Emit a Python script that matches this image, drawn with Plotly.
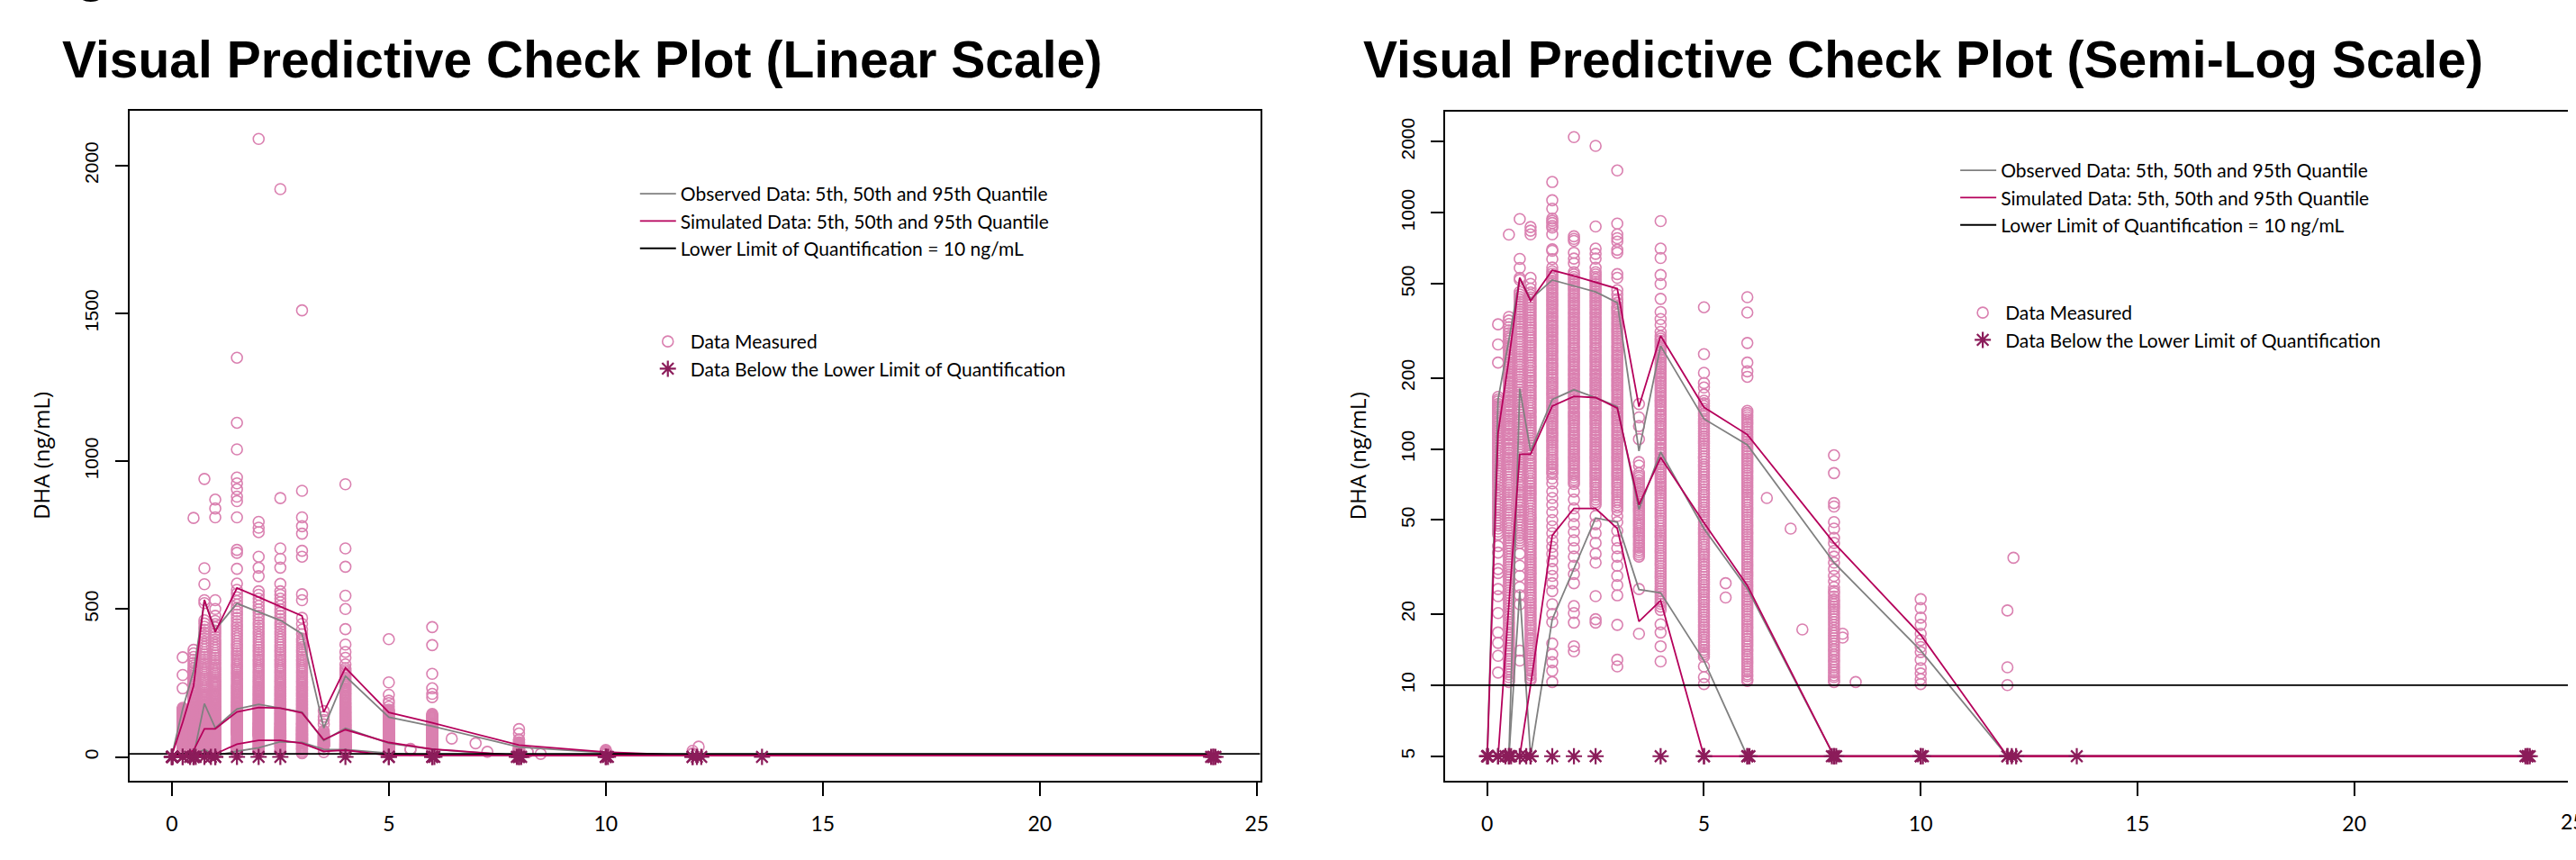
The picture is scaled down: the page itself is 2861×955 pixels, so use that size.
import plotly.graph_objects as go

W, H = 2861, 955

# ---------------- data ----------------
TIME_POINTS = [0, 0.25, 0.5, 0.75, 1, 1.5, 2, 2.5, 3, 3.5, 4, 5, 6, 8, 10, 12, 24]

OBS_P95 = [5, 162, 290, 528, 430, 519, 490, 462, 416, 98, 273, 134, 104, 33, 14, 5, 5]
OBS_P50 = [5, 5, 5, 180, 98, 162, 178, 165, 151, 55.5, 97, 46, 25.6, 5, 5, 5, 5]
OBS_P05 = [5, 5, 5, 25, 5, 19, 31, 51, 49, 25.4, 24.6, 12.7, 5, 5, 5, 5, 5]

SIM_P95 = [5, 117, 240, 531, 423, 571, 540, 509, 477, 151, 301, 150, 115, 40, 16.3, 5, 5]
SIM_P50 = [5, 5, 22, 95, 95, 152, 167, 165, 149, 58, 92, 48.7, 26.4, 5, 5, 5, 5]
SIM_P05 = [5, 5, 5, 5, 10, 43, 56, 56, 46, 18.6, 22.8, 5, 5, 5, 5, 5, 5]

LLOQ = 10
BLQ_Y_LINEAR = 0
BLQ_Y_LOG = 5
BLQ_TIMES = [0, 0, 0, 0.02, 0.25, 0.25, 0.42, 0.5, 0.5, 0.55, 0.75, 0.9, 1.0, 1.0,
             1.5, 2.0, 2.5, 4.0, 5.0, 5.0, 6.0, 6.0, 6.05, 7.95, 8.0, 8.0, 8.05,
             10.0, 10.0, 10.05, 12.0, 12.0, 12.1, 12.2, 13.6, 23.95, 24.0, 24.0, 24.05]

conc_t0_25 = [337, 277, 232, 166, 159, 152, 146, 140, 134, 128, 122, 117, 111, 106, 101, 96,
              91, 87, 83, 79, 75, 71, 67, 63.5, 60, 57, 54, 51, 48.5, 46, 43.5, 38.8, 36.4,
              31, 29.8, 25.5, 23.8, 20.2, 16.7, 15.1, 13.3, 11.3]
conc_t0_25_b = [162, 155, 149, 143, 137, 131, 125, 119.5, 114, 108.5, 103.5, 98.5, 93.5, 89, 85,
                81, 77, 73, 69, 65, 61.7, 58.5, 55.5, 52.5, 49.7, 47.2, 44.7]
conc_t0_5 = [808, 362, 338, 318, 300, 287, 274, 262, 250, 239, 228, 218, 208, 199, 190, 181,
             173, 165, 158, 151, 144, 137, 131, 125, 119, 114, 109, 104, 99, 94, 90, 86, 82,
             78, 74, 70.5, 67, 64, 61, 58, 55, 52.5, 50, 47.5, 45, 43, 41, 39, 37, 35, 33.3,
             31.7, 30.1, 28.6, 27.2, 25.9, 24.6, 23.4, 22.2, 21.1, 20, 19, 18.1, 17.2, 16.3,
             15.5, 14.7, 14, 13.3, 12.6, 12, 11.4, 10.8, 10.3]
conc_t0_5_b = [350, 328, 309, 293, 280, 268, 256, 244, 233, 223, 213, 203, 194, 185, 177, 169,
               161, 154, 147, 140, 134, 128, 122, 116, 111, 106, 101, 96.5, 92, 88, 84, 80, 76,
               72, 68.7, 65.5, 62.5, 59.5, 56.5, 53.7, 51.2, 48.7, 46.2, 44, 42, 40, 38, 36,
               34.1, 32.5, 30.9, 29.3, 27.9, 26.5, 25.2, 24, 22.8, 21.6, 20.5, 19.5, 18.5, 17.6,
               16.7, 15.9, 15.1, 14.3, 13.6, 12.9, 12.3, 11.7, 11.1, 10.5]
conc_t0_75 = [940, 638, 584, 530, 520, 462, 440, 420, 400, 381, 363, 346, 330, 314, 299, 285,
              271, 258, 246, 234, 223, 212, 202, 192, 183, 174, 166, 158, 150, 143, 136, 130,
              124, 118, 112, 107, 102, 97, 92, 88, 84, 80, 76, 72, 69, 65.5, 62.5, 59.5, 56.5,
              54, 51.5, 49, 46.5, 44, 42, 40, 36, 32, 29, 26, 24, 22, 14, 12.7]
conc_t0_75_b = [451, 430, 410, 390, 372, 354, 338, 322, 307, 292, 278, 264, 252, 240, 228, 217,
                207, 197, 187, 178, 170, 162, 154, 146, 140, 133, 127, 121, 115, 110, 104.5,
                99.5, 94.5, 90, 86, 82, 78, 74, 70.5, 67, 64, 61, 58, 55, 52.7, 50.2, 47.7,
                45.2, 43, 41]
conc_t1 = [870, 840, 810, 530, 500, 477, 460, 438, 417, 397, 378, 360, 343, 327, 311, 296, 282,
           269, 256, 244, 232, 221, 210, 200, 191, 182, 173, 165, 157, 149, 142, 135, 129, 123,
           117, 111, 106, 101, 96, 91.5, 87, 83, 79, 75, 71.5, 68, 65, 62, 59, 56, 53, 50.5, 48,
           45.7, 43.5, 41.5, 39.5, 37.5, 35.7, 34, 32.4, 30.8, 29.3, 27.9, 26.6, 25.3, 24.1,
           22.9, 21.8, 20.8, 19.8, 18.8, 17.9, 17.1, 16.2, 15.5, 14.7, 14, 13.3, 12.7, 12.1,
           11.5, 11, 10.5]
conc_t1_b = [449, 427, 407, 387, 369, 351, 335, 319, 303, 289, 275, 262, 250, 238, 226, 215, 205,
             195, 186, 177, 169, 161, 153, 145, 138, 132, 126, 120, 114, 108.5, 103.5, 98.5, 94,
             89, 85, 81, 77, 73, 69.7, 66.5, 63.5, 60.5, 57.5, 54.5, 51.7, 49.2, 46.8, 44.6,
             42.5, 40.5, 38.5, 36.6, 34.8, 33.2, 31.6, 30, 28.6, 27.2, 25.9, 24.7, 23.5, 22.3,
             21.3, 20.3, 19.3, 18.3, 17.5, 16.6, 15.8, 15.1, 14.3, 13.6, 13, 12.4, 11.8, 11.2,
             10.7]
conc_t1_5 = [1350, 1130, 1040, 945, 925, 905, 880, 865, 810, 700, 690, 636, 586, 565, 540, 515,
             492, 470, 449, 429, 410, 392, 375, 358, 342, 327, 312, 298, 285, 272, 260, 248, 237,
             226, 216, 206, 197, 188, 180, 172, 164, 157, 150, 143, 137, 131, 125, 119, 114, 109,
             104, 99, 94.5, 90, 86, 82, 78.5, 75, 71.5, 66, 62, 58, 54, 50, 47, 44, 41, 38.5, 36,
             33.5, 31, 29, 27, 25, 22, 20, 18.5, 15, 13.5, 12.5, 11.5, 10.3]
conc_t1_5_b = [552, 527, 503, 481, 459, 439, 419, 401, 383, 366, 350, 334, 319, 305, 291, 278,
               266, 254, 242, 231, 221, 211, 201, 192, 184, 176, 168, 160, 153, 146, 140, 134,
               128, 122, 116.5, 111.5, 106.5, 101.5, 97, 92, 88, 84, 80]
conc_t2 = [2090, 795, 775, 760, 677, 640, 611, 560, 535, 511, 488, 466, 445, 425, 406, 388, 371,
           354, 338, 323, 308, 294, 281, 268, 256, 245, 234, 223, 213, 204, 195, 186, 178, 170,
           162, 155, 148, 141, 135, 129, 123, 117, 112, 107, 102, 97.5, 93, 89, 85, 81, 77.5, 74,
           71, 66, 61, 56, 52, 48, 44.5, 41, 38, 35, 32, 29.5, 27, 21.6, 20.2, 18.4, 14.6, 13.9]
conc_t2_b = [548, 523, 499, 477, 455, 435, 415, 397, 379, 362, 346, 330, 316, 301, 288, 274, 262,
             250, 239, 228, 218, 208, 199, 190, 182, 174, 166, 158, 151, 144, 138, 132, 126, 120,
             114.5, 109.5, 104.5, 99.7, 95, 91, 87, 83, 79, 75.7, 72.5]
conc_t2_5 = [1920, 875, 705, 670, 640, 585, 560, 535, 511, 488, 466, 445, 425, 406, 388, 371,
             354, 338, 323, 308, 294, 281, 268, 256, 245, 234, 223, 213, 204, 195, 186, 178, 170,
             162, 155, 148, 141, 135, 129, 123, 117, 112, 107, 102, 97.5, 93, 89, 85, 81, 77.5,
             74, 70.5, 67, 64, 61, 58, 52, 48, 44, 40, 36, 33, 23.8, 19, 18.4]
conc_t2_5_b = [548, 523, 499, 477, 455, 435, 415, 397, 379, 362, 346, 330, 316, 301, 288, 274,
               262, 250, 239, 228, 218, 208, 199, 190, 182, 174, 166, 158, 151, 144, 138, 132,
               126, 120, 114.5, 109.5, 104.5, 99.7, 95, 91, 87, 83, 79, 75.7, 72.2, 68.7, 65.5,
               62.5, 59.5]
conc_t3 = [1510, 900, 810, 780, 755, 697, 677, 550, 530, 470, 450, 430, 415, 400, 388, 371, 354,
           338, 323, 308, 294, 281, 268, 256, 245, 234, 223, 213, 204, 195, 186, 178, 170, 162,
           155, 148, 141, 135, 129, 123, 117, 112, 107, 102, 97.5, 93, 89, 85, 81, 77.5, 74,
           70.5, 67, 64, 61, 58, 55, 52, 49, 45, 41, 38, 35, 32, 29, 26.5, 24, 18, 12.8, 12]
conc_t3_b = [394, 380, 362, 346, 330, 316, 301, 288, 274, 262, 250, 239, 228, 218, 208, 199, 190,
             182, 174, 166, 158, 151, 144, 138, 132, 126, 120, 114.5, 109.5, 104.5, 99.7, 95, 91,
             87, 83, 79, 75.7, 72.2, 68.7, 65.5, 62.5, 59.5, 56.5]
conc_t3_5 = [155, 136, 125, 110, 88, 85, 79, 75.5, 72, 69, 66, 63, 60, 57.5, 55, 52.5, 50, 48,
             46, 44, 42, 40, 38.2, 36.5, 35, 25.5, 16.5]
conc_t3_5_b = [77, 73.7, 70.5, 67.5, 64.5, 61.5, 58.7, 56.2, 53.7, 51.2, 49, 47, 45, 43, 41,
               39.1, 37.3, 35.7]
conc_t4 = [922, 705, 643, 545, 500, 432, 380, 355, 335, 313, 300, 287, 274, 262, 250, 239, 228,
           218, 208, 199, 190, 181, 173, 165, 158, 151, 144, 137, 131, 125, 119, 114, 109, 104,
           99, 94.5, 90, 86, 82, 78, 74.5, 71, 68, 65, 62, 59, 56, 53.5, 51, 48.5, 46, 44, 42,
           40, 38, 36.2, 34.5, 32.8, 31.2, 29.7, 28.3, 26.9, 25.6, 24.4, 23.2, 22.1, 20.8, 18.1,
           16.7, 14.6, 12.6]
conc_t4_b = [293, 280, 268, 256, 244, 233, 223, 213, 203, 194, 185, 177, 169, 161, 154, 147, 140,
             134, 128, 122, 116, 111, 106, 101, 96.5, 92, 88, 84, 80, 76, 72.7, 69.5, 66.5, 63.5,
             60.5, 57.5, 54.7, 52.2, 49.7, 47.2, 45, 43, 41, 39, 37.1, 35.3, 33.6, 32, 30.4, 29,
             27.6, 26.2, 25, 23.8, 22.6, 21.5]
conc_t5 = [398, 252, 210, 190, 182, 170, 160, 152, 145, 138, 131, 125, 119, 113, 108, 103, 98,
           93, 88.5, 84, 80, 76, 72.5, 69, 65.5, 62.5, 59.5, 56.5, 54, 51.5, 49, 46.5, 44.5,
           42.5, 40.5, 38.5, 36.5, 35, 33.3, 31.7, 30.2, 28.7, 27.3, 26, 24.8, 23.6, 22.5, 21.4,
           20.4, 19.4, 18.5, 17.6, 16.8, 16, 15.2, 14.5, 13.8, 13.2, 12, 10.8, 10.1]
conc_t5_b = [156, 148, 141, 134, 128, 122, 116, 110.5, 105.5, 100.5, 95.5, 91, 86, 82, 78, 74,
             70.7, 67.2, 64, 61, 58, 55.2, 52.7, 50.2, 47.7, 45.5, 43.5, 41.5, 39.5, 37.5, 35.7,
             34.1, 32.5, 30.9, 29.4, 28, 26.6, 25.4, 24.2, 23, 21.9, 20.9, 19.9, 18.9, 18, 17.2,
             16.4, 15.6, 14.8, 14.1, 13.5]
conc_t5_5 = [27, 23.5]
conc_t6 = [439, 378, 281, 232, 213, 202, 145, 139, 133, 127, 121, 115, 110, 105, 100, 95.5, 91,
           87, 83, 79, 75.5, 72, 68.5, 65.5, 62.5, 59.5, 56.5, 54, 51.5, 49, 46.7, 44.5, 42.5,
           40.5, 38.5, 36.7, 35, 33.3, 31.7, 30.2, 28.8, 27.4, 26.1, 24.9, 23.7, 22.6, 21.5,
           20.5, 19.5, 18.6, 17.7, 16.9, 16.1, 15.3, 14.6, 13.9, 13.2, 12.6, 12, 11.4, 10.9, 10.4]
conc_t6_b = [142, 136, 130, 124, 118, 112.5, 107.5, 102.5, 97.7, 93.2, 89, 85, 81, 77.2, 73.7,
             70.2, 67, 64, 61, 58, 55.2, 52.7, 50.2, 47.8, 45.6, 43.5, 41.5, 39.5, 37.6, 35.8,
             34.1, 32.5, 31, 29.5, 28.1, 26.7, 25.5, 24.3, 23.1, 22, 21, 20, 19, 18.1, 17.3, 16.5,
             15.7, 14.9, 14.2, 13.5, 12.9, 12.3, 11.7, 11.1, 10.6]
conc_t6_45 = [62]
conc_t7 = [46]
conc_t7_27 = [17.2]
conc_t8 = [94, 79, 59, 57, 49, 46, 42, 40, 37, 35, 33, 31, 29, 27.5, 26, 24.5, 23, 22, 21, 20,
           19, 18, 17, 16.2, 15.4, 14.6, 13.9, 13.2, 12.5, 11.9, 11.3, 10.8, 10.3]
conc_t8_b = [25, 23.7, 22.5, 21.5, 20.5, 19.5, 18.5, 17.5, 16.6, 15.8, 15, 14.2, 13.5, 12.8,
             12.2, 11.6, 11, 10.5]
conc_t8_2 = [16.5, 15.9]
conc_t8_5 = [10.3]
conc_t10 = [23.1, 21.2, 19.3, 18.0, 16.5, 15.5, 14.5, 13.8, 12.8, 11.8, 11.2, 10.6, 10.1]
conc_t12 = [20.7, 11.9, 10.0]
conc_t12_14 = [34.6]

MEASURED = [
    (0.25, conc_t0_25), (0.25, conc_t0_25_b), (0.5, conc_t0_5), (0.5, conc_t0_5_b),
    (0.75, conc_t0_75), (0.75, conc_t0_75_b), (1.0, conc_t1), (1.0, conc_t1_b),
    (1.5, conc_t1_5), (1.5, conc_t1_5_b), (2.0, conc_t2), (2.0, conc_t2_b),
    (2.5, conc_t2_5), (2.5, conc_t2_5_b), (3.0, conc_t3), (3.0, conc_t3_b),
    (3.5, conc_t3_5), (3.5, conc_t3_5_b), (4.0, conc_t4), (4.0, conc_t4_b),
    (5.0, conc_t5), (5.0, conc_t5_b), (5.5, conc_t5_5),
    (6.0, conc_t6), (6.0, conc_t6_b), (6.45, conc_t6_45), (7.0, conc_t7), (7.27, conc_t7_27),
    (8.0, conc_t8), (8.0, conc_t8_b), (8.2, conc_t8_2), (8.5, conc_t8_5), (10.0, conc_t10),
    (12.0, conc_t12), (12.14, conc_t12_14),
]

X_TICKS = [0, 5, 10, 15, 20, 25]
Y_TICKS_LIN = [0, 500, 1000, 1500, 2000]
Y_TICKS_LOG = [5, 10, 20, 50, 100, 200, 500, 1000, 2000]

TITLE_LIN = "Visual Predictive Check Plot (Linear Scale)"
TITLE_LOG = "Visual Predictive Check Plot (Semi-Log Scale)"
Y_LABEL = "DHA (ng/mL)"
LEG_OBS = "Observed Data: 5th, 50th and 95th Quantile"
LEG_SIM = "Simulated Data: 5th, 50th and 95th Quantile"
LEG_LLOQ = "Lower Limit of Quantification = 10 ng/mL"
LEG_MEAS = "Data Measured"
LEG_BLQ = "Data Below the Lower Limit of Quantification"

# ---------------- styles ----------------
PINK = "#DA80B0"
MAGENTA = "#B5005B"
GREY = "#808080"
STAR = "#8B1C5A"
HELV = "Liberation Sans, Arial, sans-serif"
HUMAN = "Lato, Open Sans, sans-serif"

X_RANGE_LIN = [-0.982, 25.08]
X_RANGE_LOG = [-0.973, 24.93]
Y_RANGE_LIN = [-80.7, 2185]
Y_RANGE_LOG = [0.595, 3.428]


def px(x):
    return x / W


def py(y):
    return 1 - y / H


meas_x = [t for t, vals in MEASURED for _ in vals]
meas_y = [v for t, vals in MEASURED for v in vals]


def joined(*series):
    xs, ys = [], []
    for s in series:
        xs += TIME_POINTS + [None]
        ys += list(s) + [None]
    return xs, ys


obs_x, obs_y = joined(OBS_P95, OBS_P50, OBS_P05)
sim_x, sim_y = joined(SIM_P95, SIM_P50, SIM_P05)

fig = go.Figure()


def add_panel(xa, ya, blq_y, x_range, leg_lines, leg_marks):
    fig.add_trace(go.Scatter(
        x=meas_x, y=meas_y, mode="markers", xaxis=xa, yaxis=ya,
        name=LEG_MEAS, legend=leg_marks, cliponaxis=True,
        marker=dict(symbol="circle-open", size=12, color=PINK, line=dict(width=1.6, color=PINK)),
    ))
    fig.add_trace(go.Scatter(
        x=obs_x, y=obs_y, mode="lines", xaxis=xa, yaxis=ya, name=LEG_OBS, legend=leg_lines,
        line=dict(color=GREY, width=1.8),
    ))
    fig.add_trace(go.Scatter(
        x=sim_x, y=sim_y, mode="lines", xaxis=xa, yaxis=ya, name=LEG_SIM, legend=leg_lines,
        line=dict(color=MAGENTA, width=1.8),
    ))
    fig.add_trace(go.Scatter(
        x=x_range, y=[LLOQ, LLOQ], mode="lines", xaxis=xa, yaxis=ya, name=LEG_LLOQ,
        legend=leg_lines, line=dict(color="black", width=1.8),
    ))
    fig.add_trace(go.Scatter(
        x=BLQ_TIMES, y=[blq_y] * len(BLQ_TIMES), mode="markers", xaxis=xa, yaxis=ya,
        name=LEG_BLQ, legend=leg_marks,
        marker=dict(symbol="asterisk-open", size=15, color=STAR, line=dict(width=2.2, color=STAR)),
    ))


add_panel("x", "y", BLQ_Y_LINEAR, X_RANGE_LIN, "legend", "legend2")
add_panel("x2", "y2", BLQ_Y_LOG, X_RANGE_LOG, "legend3", "legend4")

axis_common = dict(
    showgrid=False, zeroline=False, showline=True, linecolor="black", linewidth=1.5,
    ticks="outside", tickcolor="black", tickwidth=1.5,
)

xfont = dict(family=HUMAN, size=23, color="black")
yfont = dict(family=HELV, size=21, color="black")

leg_font = dict(family=HUMAN, size=21, color="black")


def legend_at(x, y):
    return dict(x=px(x), y=py(y), xanchor="left", yanchor="top", font=leg_font,
                bgcolor="rgba(0,0,0,0)", borderwidth=0, itemwidth=40, tracegroupgap=0)


fig.update_layout(
    width=W, height=H, margin=dict(l=0, r=0, t=0, b=0),
    paper_bgcolor="white", plot_bgcolor="white", showlegend=True,
    xaxis=dict(domain=[px(144), px(1404)], range=X_RANGE_LIN, anchor="y", mirror=True,
               tickvals=X_TICKS, ticklen=15, tickfont=xfont, ticklabelstandoff=12, **axis_common),
    yaxis=dict(domain=[py(867), py(123)], range=Y_RANGE_LIN, anchor="x", mirror=True,
               tickvals=Y_TICKS_LIN, ticklen=14, tickangle=-90, tickfont=yfont,
               ticklabelstandoff=10, **axis_common),
    xaxis2=dict(domain=[px(1610), 1.0], range=X_RANGE_LOG, anchor="y2", mirror=True,
                tickvals=X_TICKS, ticklen=15, tickfont=xfont, ticklabelstandoff=12, **axis_common),
    yaxis2=dict(domain=[py(867), py(124)], range=Y_RANGE_LOG, anchor="x2", type="log",
                tickvals=Y_TICKS_LOG, ticktext=[str(v) for v in Y_TICKS_LOG], ticklen=14,
                tickangle=-90, tickfont=yfont, ticklabelstandoff=10, **axis_common),
    legend=legend_at(708, 195),
    legend2=legend_at(719, 359),
    legend3=legend_at(2179, 169),
    legend4=legend_at(2184, 327),
)

title_font = dict(family=HELV, size=57, color="black")
fig.add_annotation(text="<b>" + TITLE_LIN + "</b>", x=px(67), y=py(66), xref="paper", yref="paper",
                   xanchor="left", yanchor="middle", showarrow=False, font=title_font)
fig.add_annotation(text="<b>" + TITLE_LOG + "</b>", x=px(1517), y=py(66), xref="paper", yref="paper",
                   xanchor="left", yanchor="middle", showarrow=False, font=title_font)
fig.add_annotation(text="<b>g</b>", x=px(102), y=py(4), xref="paper", yref="paper",
                   xanchor="center", yanchor="bottom", showarrow=False, font=title_font)

lab_font = dict(family="Open Sans, Lato, sans-serif", size=24, color="black")
for xx in (45, 1512):
    fig.add_annotation(text=Y_LABEL, x=px(xx), y=py(506), xref="paper", yref="paper",
                       textangle=-90, xanchor="center", yanchor="middle", showarrow=False,
                       font=lab_font)

# last tick label of the semi-log panel, half cut by the right edge of the picture
fig.add_annotation(text="25", x=px(2851), y=py(912), xref="paper", yref="paper",
                   xanchor="left", yanchor="middle", showarrow=False, font=xfont)

fig.write_html("out.html")
